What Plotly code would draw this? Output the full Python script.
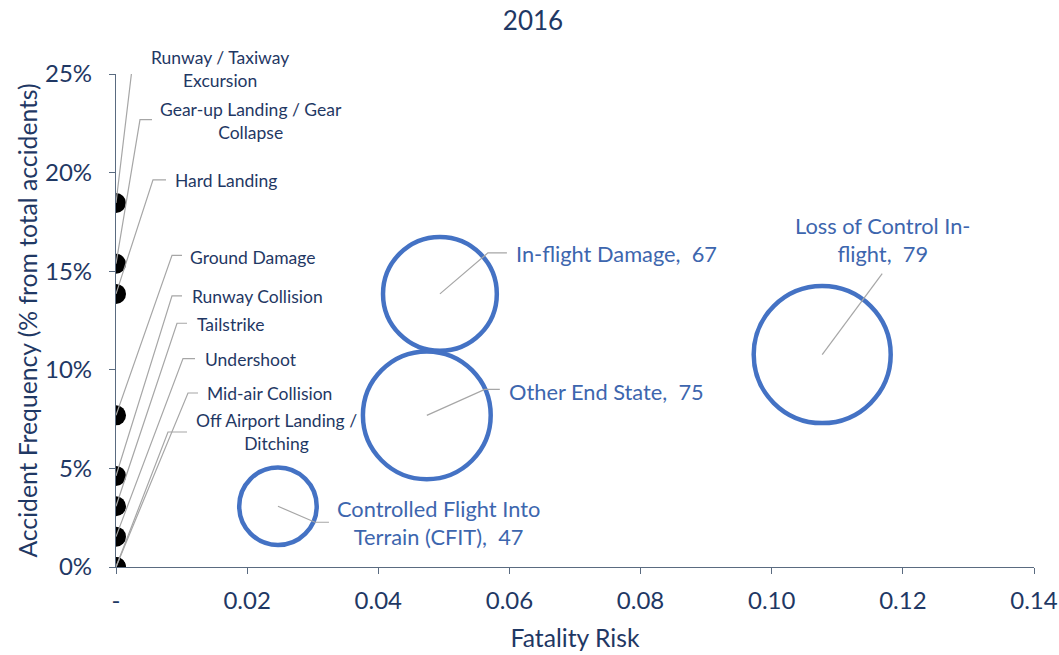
import plotly.graph_objects as go

# ---------------- data ----------------
small_names = [
    "Runway / Taxiway<br>Excursion",
    "Gear-up Landing / Gear<br>Collapse",
    "Hard Landing",
    "Ground Damage",
    "Runway Collision",
    "Tailstrike",
    "Undershoot",
    "Mid-air Collision",
    "Off Airport Landing /<br>Ditching",
]
small_risk = [0.0, 0.0, 0.0, 0.0, 0.0, 0.0, 0.0, 0.0, 0.0]
small_freq = [0.1846, 0.1538, 0.1385, 0.0769, 0.0462, 0.0308, 0.0154, 0.0, 0.0]

big_names = [
    "In-flight Damage",
    "Other End State",
    "Loss of Control In-<br>flight",
    "Controlled Flight Into<br>Terrain (CFIT)",
]
big_risk = [0.0494, 0.0474, 0.1077, 0.0247]
big_freq = [0.1385, 0.0769, 0.1077, 0.0308]
big_label_value = [67, 75, 79, 47]
big_bubble_area = [69, 87, 100, 32]   # relative bubble area (estimated)

x_tickvals = [0, 0.02, 0.04, 0.06, 0.08, 0.10, 0.12, 0.14]
x_ticktext = ["-", "0.02", "0.04", "0.06", "0.08", "0.10", "0.12", "0.14"]
y_tickvals = [0, 0.05, 0.10, 0.15, 0.20, 0.25]

# ---------------- layout helpers (pixel offsets of label leaders) ----------------
# each: (diagonal end, elbow end, text anchor) in screen pixels relative to point
small_leaders = [
    ((16, -134), (27, -134), (33, -134)),
    ((24, -144), (36, -144), (42, -143)),
    ((37, -114), (50, -114), (57, -113)),
    ((56, -160), (66, -160), (72, -158)),
    ((56, -180), (66, -180), (74, -179)),
    ((61, -183), (71, -183), (79, -182)),
    ((67, -178), (79, -178), (87, -177)),
    ((72, -174), (82, -174), (89, -174)),
    ((52, -135), (71, -135), (78, -135)),
]
big_leaders = [
    ([(48, -41), (67, -41)], (74, -40), "left"),
    ([(58, -26), (73, -26)], (80, -24), "left"),
    ([(60, -81)], (60, -115), "center"),
    ([(37, 16), (51, 16)], (57, 16), "left"),
]

NAVY = "#1F3864"
BLUE = "#4472C4"
LABEL_BLUE = "#3D66AE"
LEADER = "#A6A6A6"
AXIS = "#5A6B80"
FONT = "Lato"

W, H = 1059, 655

fig = go.Figure()

fig.add_trace(go.Scatter(
    x=small_risk, y=small_freq, mode="markers",
    marker=dict(size=20, color="black", opacity=1, line=dict(width=0)),
    hoverinfo="skip", showlegend=False,
))

fig.add_trace(go.Scatter(
    x=big_risk, y=big_freq, mode="markers",
    marker=dict(size=big_bubble_area, sizemode="area", sizeref=2 * 100 / 137 ** 2,
                opacity=1, color="rgba(0,0,0,0)", line=dict(color=BLUE, width=4.5)),
    hoverinfo="skip", showlegend=False,
))


def leader_shape(x, y, pts):
    path = "M0,0 " + " ".join(f"L{px},{-py}" for px, py in pts)
    return dict(type="path", xref="x", yref="y", xsizemode="pixel", ysizemode="pixel",
                xanchor=x, yanchor=y, path=path, layer="above",
                line=dict(color=LEADER, width=1.2))


shapes = []
annotations = []
for name, xv, yv, (d, e, t) in zip(small_names, small_risk, small_freq, small_leaders):
    shapes.append(leader_shape(xv, yv, [d, e]))
    annotations.append(dict(
        x=xv, y=yv, xref="x", yref="y", text=name, showarrow=False,
        xshift=t[0], yshift=-t[1], xanchor="left", yanchor="middle", align="center",
        font=dict(family=FONT, size=17.5, color=NAVY),
    ))

for name, val, xv, yv, (pts, t, anc) in zip(big_names, big_label_value, big_risk, big_freq, big_leaders):
    shapes.append(leader_shape(xv, yv, pts))
    annotations.append(dict(
        x=xv, y=yv, xref="x", yref="y", text=f"{name},\u00a0 {val}", showarrow=False,
        xshift=t[0], yshift=-t[1], xanchor=anc, yanchor="middle", align="center",
        font=dict(family=FONT, size=21.8, color=LABEL_BLUE),
    ))

fig.update_layout(
    width=W, height=H,
    margin=dict(l=116, r=25, t=74, b=88),
    paper_bgcolor="white", plot_bgcolor="white",
    font=dict(family=FONT, color=NAVY),
    title=dict(text="2016", x=533 / W, xanchor="center", xref="container",
               y=1 - 21 / H, yanchor="middle", yref="container",
               font=dict(family=FONT, size=26, color=NAVY)),
    shapes=shapes, annotations=annotations,
    xaxis=dict(
        range=[0, 0.14], tickvals=x_tickvals, ticktext=x_ticktext, automargin=False,
        showgrid=False, zeroline=False, showline=True, linecolor=AXIS, linewidth=1.3,
        ticks="outside", ticklen=6, tickcolor=AXIS, tickwidth=1.3,
        tickfont=dict(family=FONT, size=24, color=NAVY), ticklabelstandoff=6,
        title=dict(text="Fatality Risk", font=dict(family=FONT, size=24.7, color=NAVY), standoff=16),
        fixedrange=True,
    ),
    yaxis=dict(
        range=[0, 0.25], tickvals=y_tickvals, tickformat=".0%", automargin=False,
        showgrid=False, zeroline=False, showline=True, linecolor=AXIS, linewidth=1.3,
        ticks="outside", ticklen=6, tickcolor=AXIS, tickwidth=1.3,
        tickfont=dict(family=FONT, size=24, color=NAVY), ticklabelstandoff=12,
        title=dict(text="Accident Frequency (% from total accidents)",
                   font=dict(family=FONT, size=24.7, color=NAVY), standoff=0),
        fixedrange=True,
    ),
)

# remove the default 8px page margin so the figure fills the window exactly
fig.write_html(
    "out.html",
    config={"displayModeBar": False},
    post_script="document.body.style.margin='0';document.documentElement.style.overflow='hidden';",
)
